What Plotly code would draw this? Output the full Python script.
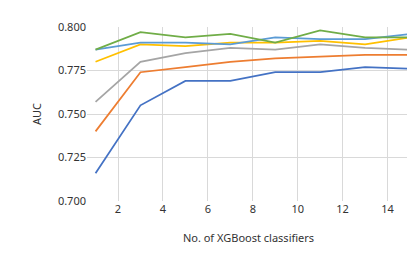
import plotly.graph_objects as go

x_vals = [1, 3, 5, 7, 9, 11, 13, 15]
s_blue = [0.716, 0.755, 0.769, 0.769, 0.774, 0.774, 0.777, 0.776]
s_orange = [0.740, 0.774, 0.777, 0.780, 0.782, 0.783, 0.784, 0.784]
s_gray = [0.757, 0.780, 0.785, 0.788, 0.787, 0.790, 0.788, 0.787]
s_yellow = [0.780, 0.790, 0.789, 0.791, 0.791, 0.792, 0.790, 0.794]
s_lightblue = [0.787, 0.791, 0.791, 0.790, 0.794, 0.793, 0.793, 0.796]
s_green = [0.787, 0.797, 0.794, 0.796, 0.791, 0.798, 0.794, 0.794]

series = [
    (s_blue, "#4472C4"),
    (s_orange, "#ED7D31"),
    (s_gray, "#A5A5A5"),
    (s_yellow, "#FFC000"),
    (s_lightblue, "#5B9BD5"),
    (s_green, "#70AD47"),
]

fig = go.Figure()
for ys, c in series:
    fig.add_trace(go.Scatter(x=x_vals, y=ys, mode="lines",
                             line=dict(color=c, width=1.75), showlegend=False))

font = dict(family="Noto Sans, Open Sans, sans-serif", size=11, color="#333333")
fig.update_layout(
    width=415, height=257,
    margin=dict(l=79, r=13, t=19, b=64),
    paper_bgcolor="white", plot_bgcolor="white",
    font=font,
    xaxis=dict(range=[0.62, 15], tickvals=[2, 4, 6, 8, 10, 12, 14],
               showgrid=True, gridcolor="#D9D9D9", gridwidth=1,
               zeroline=False, showline=False, ticks="",
               title=dict(text="No. of XGBoost classifiers", standoff=19, font=font)),
    yaxis=dict(range=[0.700, 0.800], tickvals=[0.700, 0.725, 0.750, 0.775, 0.800],
               tickformat=".3f", showgrid=True, gridcolor="#D9D9D9", gridwidth=1,
               zeroline=False, showline=False, ticks="",
               title=dict(text="AUC", standoff=14, font=font)),
)
fig.write_html("out.html")
